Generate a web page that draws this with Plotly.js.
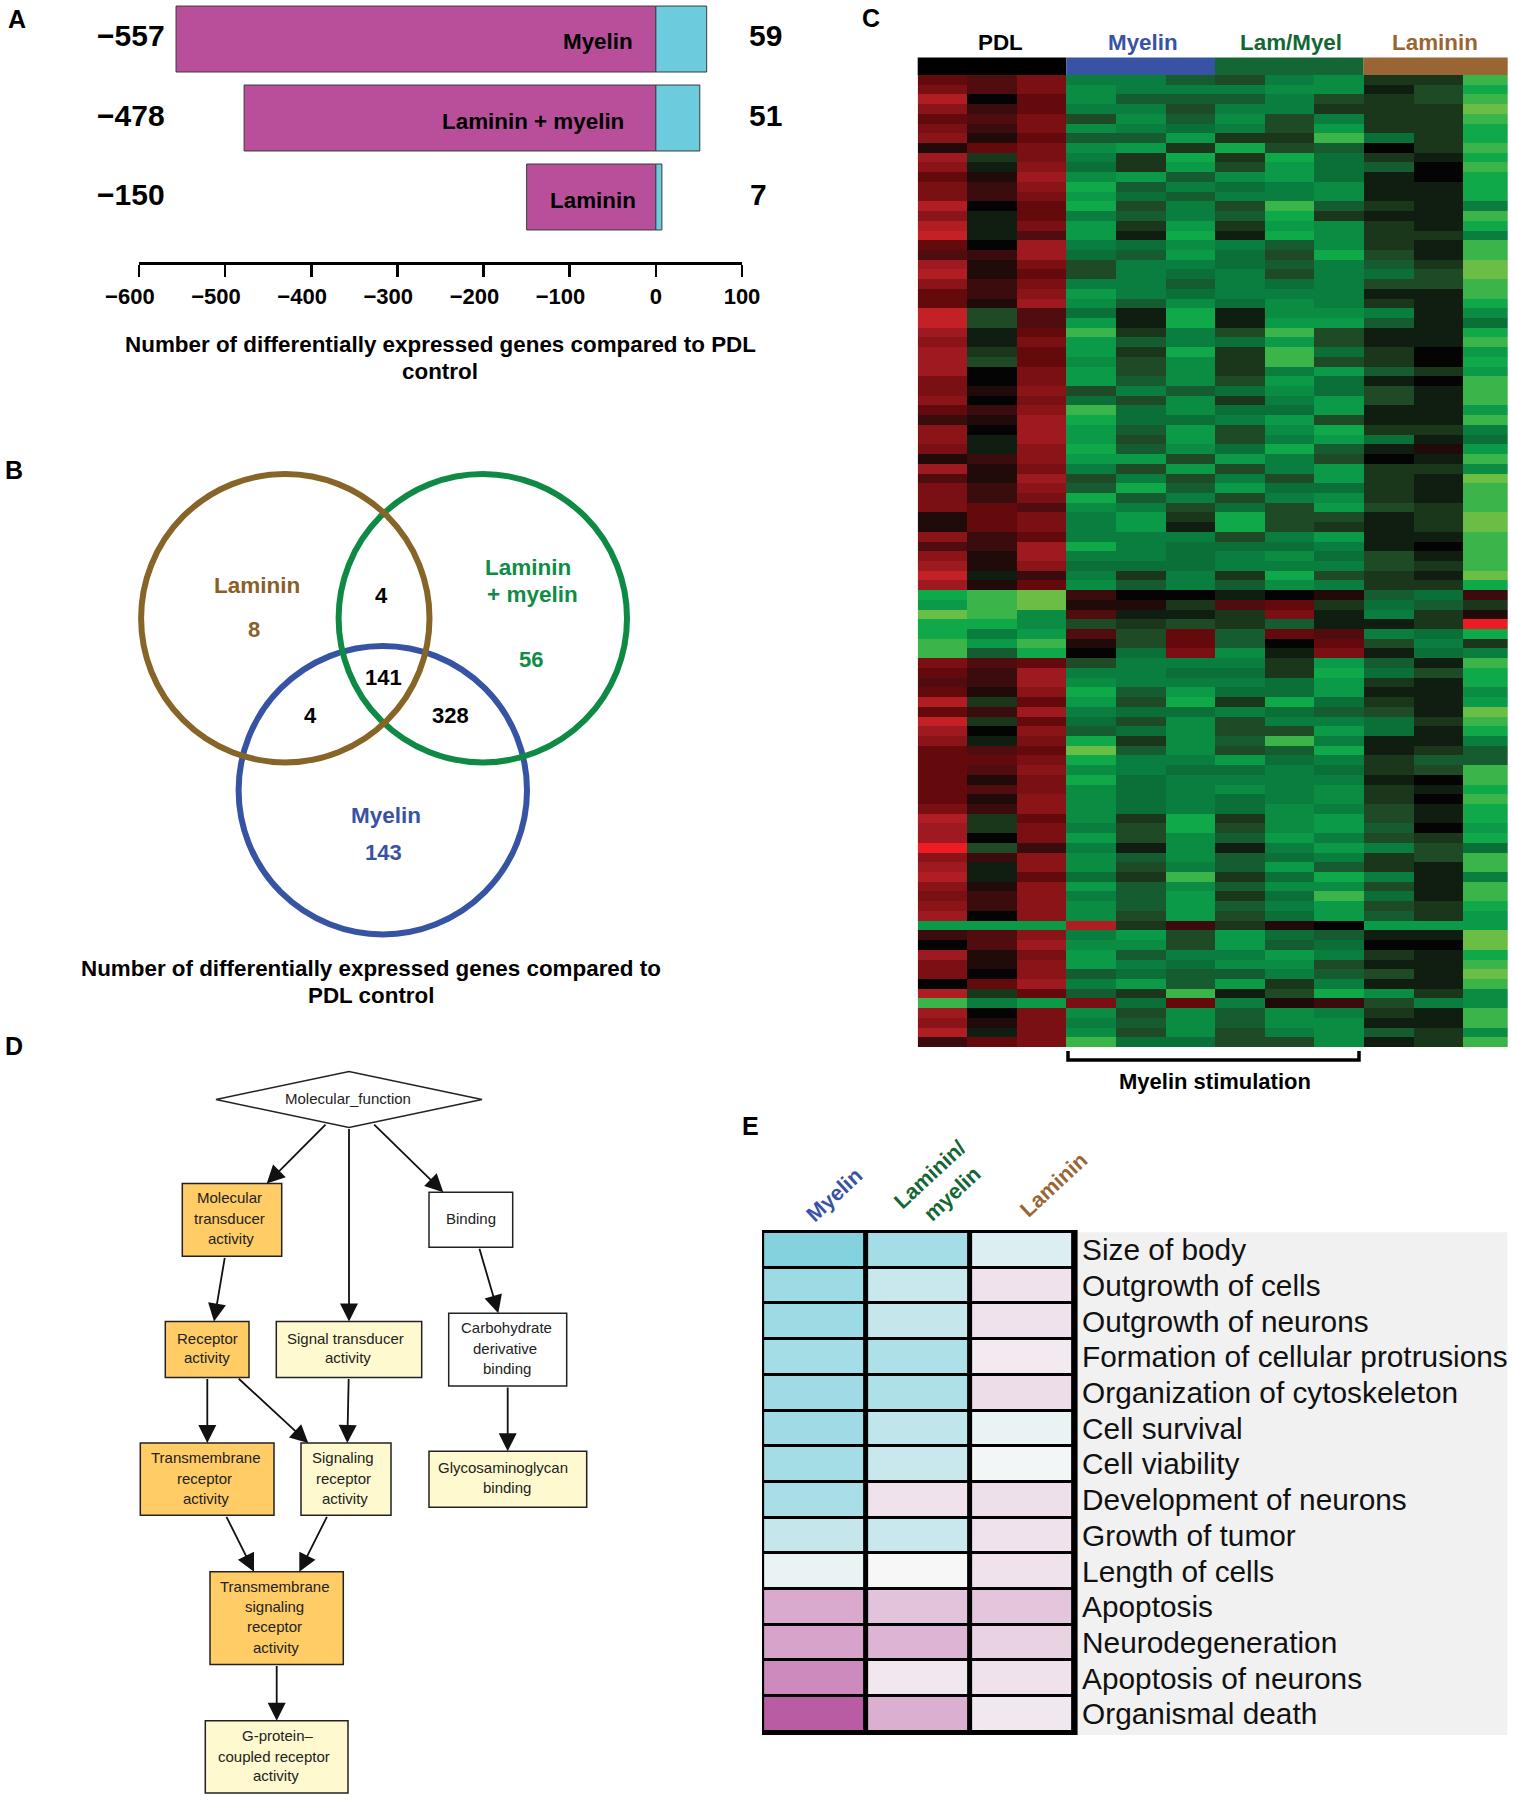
<!DOCTYPE html>
<html>
<head>
<meta charset="utf-8">
<script src="https://cdn.plot.ly/plotly-3.0.1.min.js"></script>
<style>html,body{margin:0;padding:0;background:#fff;overflow:hidden}</style>
</head>
<body>
<div id="chart" style="width:1513px;height:1800px"></div>
<script>
// ---------- Panel A data
const barCategories = ['Myelin', 'Laminin + myelin', 'Laminin'];
const downGenes = [-557, -478, -150];
const upGenes = [59, 51, 7];
const barTicks = [-600, -500, -400, -300, -200, -100, 0, 100];
const barTickLabels = ['−600', '−500', '−400', '−300', '−200', '−100', '0', '100'];

// ---------- Panel B data
const vennCounts = {laminin: 8, lamMye: 56, myelin: 143, lamLm: 4, lamMy: 4, lmMy: 328, all: 141};

// ---------- Panel C data (signed colour level per gene, green negative, red positive)
const heatColumns = ['PDL 1','PDL 2','PDL 3','Myelin 1','Myelin 2','Myelin 3','Lam/Myel 1','Lam/Myel 2','Lam/Myel 3','Laminin 1','Laminin 2','Laminin 3'];
const heatGroups = ['PDL', 'Myelin', 'Lam/Myel', 'Laminin'];
const heatRows = [
[4,3,5,-6,-6,-4,-3,-6,-7,-2,-2,-10],
[5,3,5,-7,-6,-6,-6,-7,-7,-1,-3,-9],
[8,0,4,-7,-4,-4,-4,-6,-3,-2,-3,-10],
[6,2,4,-6,-6,-3,-6,-6,-2,-2,-2,-11],
[4,3,5,-3,-7,-4,-7,-3,-6,-2,-2,-10],
[5,2,5,-7,-6,-5,-6,-3,-8,-2,-2,-9],
[6,1,4,-4,-4,-8,-2,-2,-10,-5,-2,-9],
[1,4,5,-7,-8,-2,-9,-3,-4,0,-2,-10],
[7,-2,5,-6,-2,-9,-2,-9,-5,-2,-1,-9],
[6,-1,6,-5,-2,-8,-3,-8,-5,-4,0,-10],
[4,1,7,-7,-8,-4,-7,-8,-5,-1,0,-9],
[5,2,6,-9,-4,-6,-5,-6,-7,-1,-1,-9],
[5,2,5,-8,-5,-4,-6,-6,-7,-1,-1,-9],
[8,0,4,-9,-3,-6,-3,-10,-4,-2,-1,-6],
[6,-1,4,-6,-4,-6,-4,-9,-2,-1,-1,-10],
[8,-1,5,-8,-2,-8,-2,-8,-7,-2,-1,-9],
[9,-1,3,-8,-1,-9,-1,-9,-7,-2,-2,-6],
[4,0,7,-6,-5,-7,-6,-4,-7,-2,-1,-10],
[3,2,7,-5,-4,-8,-5,-3,-9,-3,-1,-10],
[7,1,5,-3,-6,-6,-5,-4,-6,-4,-2,-11],
[8,1,4,-3,-6,-5,-6,-3,-6,-5,-3,-11],
[6,2,5,-6,-6,-4,-6,-5,-6,-3,-3,-10],
[4,2,6,-8,-6,-5,-6,-6,-6,-1,-1,-10],
[4,1,7,-7,-4,-7,-5,-7,-6,-2,-1,-9],
[9,-3,3,-5,-1,-9,-1,-7,-7,-6,-1,-7],
[9,-3,3,-8,-1,-9,-1,-8,-8,-4,-1,-5],
[7,-1,4,-10,-2,-6,-3,-10,-3,-1,-1,-9],
[6,-1,5,-8,-4,-6,-5,-8,-3,-1,-1,-10],
[7,-2,4,-8,-2,-9,-2,-10,-5,-2,0,-8],
[7,-3,4,-7,-3,-7,-2,-10,-3,-2,0,-9],
[7,0,5,-8,-3,-7,-2,-6,-8,-4,-2,-8],
[5,0,5,-8,-4,-7,-3,-8,-5,-1,0,-10],
[5,1,6,-3,-6,-4,-5,-7,-5,-3,-1,-10],
[6,0,5,-5,-3,-7,-2,-6,-8,-3,-1,-10],
[4,2,6,-10,-5,-7,-5,-5,-8,-1,-1,-8],
[2,1,7,-9,-5,-5,-6,-8,-3,-1,-1,-10],
[6,0,7,-8,-4,-8,-3,-7,-9,-2,-2,-6],
[6,-1,7,-8,-3,-8,-3,-6,-8,-5,-1,-5],
[5,-1,6,-9,-4,-7,-5,-9,-4,-1,1,-8],
[1,2,6,-8,-8,-3,-8,-6,-3,0,-1,-10],
[7,1,5,-6,-3,-8,-3,-6,-8,-2,-2,-7],
[3,1,7,-3,-6,-3,-6,-3,-8,-2,-1,-11],
[5,2,6,-4,-9,-4,-8,-5,-5,-2,-1,-10],
[5,2,5,-9,-4,-6,-3,-6,-7,-2,-1,-10],
[5,4,3,-7,-6,-3,-5,-3,-8,-3,-2,-10],
[1,4,5,-6,-8,-2,-9,-3,-3,-1,-2,-11],
[1,4,5,-6,-8,-1,-9,-3,-2,-1,-2,-11],
[6,2,4,-6,-6,-6,-3,-6,-8,-1,-1,-10],
[3,2,7,-9,-6,-5,-5,-5,-6,-1,0,-10],
[6,1,7,-6,-6,-5,-6,-7,-5,-3,-1,-10],
[7,1,6,-5,-5,-5,-6,-6,-6,-3,-2,-10],
[9,-1,2,-6,-2,-6,-2,-9,-3,-2,-1,-11],
[7,1,4,-7,-4,-6,-4,-7,-6,-2,-2,-9],
[-9,-10,-11,2,0,0,-1,0,1,-4,-5,2],
[-8,-10,-11,1,1,-2,3,4,-2,-5,-4,-2],
[-11,-10,-7,3,-1,-1,-2,5,-1,-6,-2,1],
[-9,-9,-7,-3,-2,-3,-2,-4,-1,-1,-2,11],
[-9,-6,-8,3,-3,4,-4,4,3,-6,-5,-9],
[-10,-8,-10,1,-3,4,-4,0,4,-3,-6,-2],
[-10,-4,-9,0,-5,5,-7,-1,5,-1,-5,-6],
[5,3,4,-3,-6,-6,-6,-2,-8,-4,-1,-10],
[4,2,7,-6,-6,-5,-5,-2,-9,-5,-3,-9],
[3,2,7,-7,-6,-6,-6,-5,-8,-2,-1,-9],
[4,1,6,-9,-4,-8,-5,-5,-8,-1,-1,-7],
[8,-2,4,-8,-3,-9,-2,-9,-5,-2,-1,-8],
[4,2,7,-6,-5,-5,-6,-5,-4,-3,-1,-11],
[9,-2,4,-5,-3,-7,-3,-6,-6,-5,-2,-10],
[7,0,6,-4,-5,-7,-3,-3,-8,-5,-1,-9],
[6,-1,5,-9,-2,-7,-4,-10,-6,-1,-1,-6],
[4,3,4,-11,-4,-7,-3,-4,-9,-1,-2,-4],
[4,4,5,-9,-6,-6,-8,-5,-6,-2,-4,-4],
[4,3,6,-7,-6,-5,-5,-6,-5,-2,-3,-10],
[4,1,5,-9,-5,-6,-6,-6,-6,-1,0,-10],
[4,3,5,-7,-5,-6,-7,-6,-7,-2,-1,-9],
[4,1,6,-7,-5,-6,-5,-6,-7,-2,0,-10],
[5,2,6,-7,-5,-6,-5,-7,-6,-3,-1,-9],
[8,-2,4,-7,-2,-9,-2,-7,-8,-3,-1,-9],
[7,-2,5,-6,-3,-9,-3,-7,-8,-4,0,-8],
[7,0,5,-8,-3,-7,-4,-8,-6,-3,-2,-9],
[11,-3,2,-6,-1,-7,-1,-6,-8,-6,-3,-5],
[6,2,6,-7,-4,-7,-4,-5,-6,-2,-3,-10],
[7,-1,6,-7,-3,-6,-4,-8,-4,-2,-1,-10],
[8,-1,4,-5,-2,-10,-2,-5,-9,-6,-1,-6],
[6,1,6,-8,-4,-7,-4,-7,-7,-3,-1,-10],
[5,2,6,-6,-4,-8,-2,-5,-10,-5,-1,-10],
[6,2,6,-7,-4,-8,-4,-6,-8,-3,-2,-9],
[7,0,6,-7,-3,-8,-3,-5,-8,-4,-2,-8],
[-8,-8,-8,8,-2,2,-2,1,0,-8,-8,-8],
[2,3,6,-6,-8,-3,-8,-5,-4,-1,-1,-11],
[0,3,7,-7,-7,-3,-8,-4,-5,0,0,-11],
[7,1,5,-8,-4,-6,-6,-8,-6,-2,-1,-9],
[5,1,6,-8,-6,-5,-7,-7,-3,-1,-1,-10],
[5,0,6,-4,-5,-4,-4,-6,-4,-3,-1,-11],
[0,4,7,-6,-8,-4,-8,-2,-6,-1,-1,-10],
[8,-2,4,-4,-2,-10,-1,-3,-9,-7,-2,-7],
[-10,-6,-8,5,-5,4,-6,1,2,-3,-6,-7],
[7,0,5,-7,-3,-7,-4,-7,-6,-2,-1,-10],
[6,1,5,-6,-4,-7,-4,-7,-7,-1,-1,-10],
[8,-1,5,-7,-3,-7,-3,-6,-7,-4,-2,-7],
[2,4,5,-10,-5,-5,-3,-3,-7,-1,-2,-10]
];

// ---------- Panel D data
const goNodes = [
  ['Molecular_function'],
  ['Molecular','transducer','activity'],
  ['Binding'],
  ['Receptor','activity'],
  ['Signal transducer','activity'],
  ['Carbohydrate','derivative','binding'],
  ['Transmembrane','receptor','activity'],
  ['Signaling','receptor','activity'],
  ['Glycosaminoglycan','binding'],
  ['Transmembrane','signaling','receptor','activity'],
  ['G-protein–','coupled receptor','activity']
];

// ---------- Panel E data
const functionLabels = ['Size of body','Outgrowth of cells','Outgrowth of neurons','Formation of cellular protrusions','Organization of cytoskeleton','Cell survival','Cell viability','Development of neurons','Growth of tumor','Length of cells','Apoptosis','Neurodegeneration','Apoptosis of neurons','Organismal death'];
const functionColumns = ['Myelin', 'Laminin/myelin', 'Laminin'];
const myelinScores = [2.5,2.0,2.0,1.8,1.9,1.9,1.8,1.7,1.1,0.3,-1.5,-1.6,-2.1,-3.0];
const lamMyelinScores = [1.8,1.0,1.1,1.6,1.6,1.2,1.0,-0.4,1.0,0.0,-1.0,-1.3,-0.3,-1.4];
const lamininScores = [0.6,-0.4,-0.4,-0.25,-0.5,0.3,0.1,-0.45,-0.4,-0.4,-0.95,-0.7,-0.4,-0.3];

// ---------- Styling / layout (pixel positions on the page)
const W = 1513, H = 1800;
const FONT = '"Liberation Sans", Arial, sans-serif';
const C_BLUE = '#3953A4', C_GREEN = '#146734', C_BROWN = '#996633';
const dx = (a, b) => [a / W, b / W];
const dy = (t, b) => [1 - b / H, 1 - t / H];

const anns = [];
const shapes = [];
function label(x, y, text, size, color, bold, extra) {
  anns.push(Object.assign({xref:'x4', yref:'y4', x, y, text, showarrow:false, xanchor:'center', yanchor:'middle',
    font:{family:FONT, size, color:color||'#000', weight:bold?'bold':'normal'}}, extra||{}));
}

// Panel letters
[['A',17,19],['B',14,470],['C',871,18],['D',14,1046],['E',750,1126]].forEach(p => label(p[1], p[2], p[0], 25, '#000', true));

// Panel A value labels and in-bar names
const barLabelX = [598, 533, 593];
const rowYs = [35, 115, 194];
barCategories.forEach((c, i) => {
  label(barLabelX[i], rowYs[i] + 6, c, 22.4, '#000', true);
  label(131, rowYs[i], '−' + Math.abs(downGenes[i]), 30, '#000', true);
  label(i === 2 ? 758 : 765, rowYs[i], String(upGenes[i]), 30, '#000', true);
});
label(440, 371, 'control', 22.4, '#000', true);

// Panel B
const venn = [
  {cx:382.8, cy:790.2, color:'#3653A4'},
  {cx:482.8, cy:618.2, color:'#0F8A45'},
  {cx:285.3, cy:618.2, color:'#876427'}
];
venn.forEach(v => shapes.push({type:'circle', xref:'x4', yref:'y4', x0:v.cx-144.2, x1:v.cx+144.2, y0:v.cy-144.2, y1:v.cy+144.2,
  line:{color:v.color, width:6}, fillcolor:'rgba(0,0,0,0)', layer:'above'}));
label(257, 585.5, 'Laminin', 22.5, '#8B6028', true);
label(254, 629, String(vennCounts.laminin), 22, '#8B6028', true);
label(528, 567, 'Laminin', 22.5, '#0F8C45', true);
label(532, 594, '+ myelin', 22.5, '#0F8C45', true);
label(531, 659.5, String(vennCounts.lamMye), 22, '#0F8C45', true);
label(381.5, 595.5, String(vennCounts.lamLm), 22, '#000', true);
label(383.5, 677.5, String(vennCounts.all), 22, '#000', true);
label(310, 715.5, String(vennCounts.lamMy), 22, '#000', true);
label(450, 715.5, String(vennCounts.lmMy), 22, '#000', true);
label(385.5, 815.5, 'Myelin', 22.5, C_BLUE, true);
label(383.5, 852, String(vennCounts.myelin), 22, C_BLUE, true);
label(371, 968, 'Number of differentially expressed genes compared to', 22.4, '#000', true);
label(371, 995.5, 'PDL control', 22.4, '#000', true);

// Panel C header
const groupBands = [[917.7,1066.35,'#000000'],[1066.35,1215,C_BLUE],[1215,1363.65,C_GREEN],[1363.65,1507.7,C_BROWN]];
const groupLabelX = [1000, 1143, 1290.5, 1435];
heatGroups.forEach((g, i) => {
  const b = groupBands[i];
  shapes.push({type:'rect', xref:'x4', yref:'y4', x0:b[0], x1:b[1], y0:57.5, y1:75, fillcolor:b[2], line:{width:0}, layer:'above'});
  label(groupLabelX[i], 42, g, 22.4, i === 0 ? '#000' : b[2], true);
});
shapes.push({type:'path', xref:'x4', yref:'y4', path:'M 1068 1051 V 1060 H 1359 V 1051', line:{color:'#000', width:3.5}, layer:'above'});
label(1215, 1081, 'Myelin stimulation', 22, '#000', true);

// Panel D
const PALE = '#FFF9CF', ORANGE = '#FFCC66', BLANK = '#FFFFFF';
const boxes = [
  {n:0, shape:'diamond', x0:216, x1:482, y0:1071.5, y1:1127.5, fill:BLANK, tx:[348], ty:[1098]},
  {n:1, x0:182.3, x1:281.7, y0:1183.6, y1:1256.3, fill:ORANGE, tx:[229.3,229.3,230.7], ty:[1197.9,1218.5,1238.6]},
  {n:2, x0:429, x1:512.7, y0:1192.2, y1:1247.2, fill:BLANK, tx:[471], ty:[1218.5]},
  {n:3, x0:165.3, x1:249, y0:1321.4, y1:1377.4, fill:ORANGE, tx:[207,206.7], ty:[1338.2,1357.8]},
  {n:4, x0:276.3, x1:421.7, y0:1321.4, y1:1377.4, fill:PALE, tx:[345,348.3], ty:[1338.2,1357.8]},
  {n:5, x0:448.7, x1:566.7, y0:1313.3, y1:1386, fill:BLANK, tx:[506,504.7,507.3], ty:[1327.6,1348.2,1368.3]},
  {n:6, x0:140.3, x1:274, y0:1443, y1:1515.3, fill:ORANGE, tx:[205.3,204.7,206.3], ty:[1457.4,1478.5,1498]},
  {n:7, x0:301, x1:391, y0:1443, y1:1515.3, fill:PALE, tx:[342.7,343.3,345], ty:[1457.4,1478.5,1498]},
  {n:8, x0:429, x1:586.7, y0:1451.2, y1:1507.2, fill:PALE, tx:[503.3,507.3], ty:[1467.9,1487]},
  {n:9, x0:210, x1:343.3, y0:1571.8, y1:1664.6, fill:ORANGE, tx:[274.7,274,274,275.7], ty:[1586.6,1606.7,1626.3,1647.4]},
  {n:10, x0:205.3, x1:348, y0:1720.7, y1:1793, fill:PALE, tx:[278,273.7,275.7], ty:[1735,1756,1775.7]}
];
boxes.forEach(b => {
  const xc = (b.x0 + b.x1) / 2, yc = (b.y0 + b.y1) / 2;
  if (b.shape === 'diamond') {
    shapes.push({type:'path', xref:'x4', yref:'y4', path:`M ${b.x0} ${yc} L ${xc} ${b.y0} L ${b.x1} ${yc} L ${xc} ${b.y1} Z`,
      fillcolor:b.fill, line:{color:'#222', width:1.5}, layer:'above'});
  } else {
    shapes.push({type:'rect', xref:'x4', yref:'y4', x0:b.x0, x1:b.x1, y0:b.y0, y1:b.y1,
      fillcolor:b.fill, line:{color:'#222', width:1.5}, layer:'above'});
  }
  goNodes[b.n].forEach((t, i) => label(b.tx[i], b.ty[i], t, 15, '#222', false));
});
const edges = [
  [327,1123.2,266.7,1183.6],[349,1127.5,349,1321.4],[372.7,1123.2,443.3,1192.2],
  [225,1256.3,214,1321.4],[207.3,1377.4,207.3,1443],[237.3,1377.4,308.3,1443],
  [348.7,1377.4,347.3,1443],[479,1247.2,498.3,1313.3],[507.7,1386,507.7,1451.2],
  [225.7,1515.3,254,1571.8],[327.7,1515.3,299.3,1571.8],[276.7,1664.6,276.7,1720.7]
];
edges.forEach(e => anns.push({xref:'x4', yref:'y4', axref:'x4', ayref:'y4', x:e[2], y:e[3], ax:e[0], ay:e[1], text:'',
  showarrow:true, arrowhead:2, arrowsize:2, arrowwidth:1.8, arrowcolor:'#111', standoff:0, startstandoff:0}));

// Panel E backgrounds and headers (drawn under the heatmap)
const lowerShapes = [
  {type:'rect', xref:'paper', yref:'paper', x0:1077.6/W, x1:1507.5/W, y0:1-1735/H, y1:1-1232.3/H, fillcolor:'#F1F1F1', line:{width:0}, layer:'below'},
  {type:'rect', xref:'paper', yref:'paper', x0:762/W, x1:1077.6/W, y0:1-1735/H, y1:1-1230/H, fillcolor:'#000', line:{width:0}, layer:'below'}
];
const rot = {textangle:-43};
label(834.6, 1195, functionColumns[0], 21.5, C_BLUE, true, rot);
label(929.7, 1175, 'Laminin/', 21.5, C_GREEN, true, rot);
label(952, 1193.6, 'myelin', 21.5, C_GREEN, true, rot);
label(1054, 1185.4, functionColumns[2], 21.5, C_BROWN, true, rot);

const traces = [
  {type:'bar', orientation:'h', name:'Down', x:downGenes, y:barCategories, xaxis:'x', yaxis:'y',
    marker:{color:'#B94F9B', line:{color:'#3a3a3a', width:1}}, hoverinfo:'x+y'},
  {type:'bar', orientation:'h', name:'Up', x:upGenes, y:barCategories, xaxis:'x', yaxis:'y',
    marker:{color:'#6CCBDC', line:{color:'#3a3a3a', width:1}}, hoverinfo:'x+y'},
  {type:'heatmap', z:heatRows, x:heatColumns, xaxis:'x2', yaxis:'y2', zmin:-11, zmax:11, showscale:false, zsmooth:false,
    colorscale:[
      [0/22,'#6ABD45'],[1/22,'#3BB54A'],[2/22,'#0FA94A'],[3/22,'#0B9A47'],[4/22,'#0A8C43'],[5/22,'#0A7E3F'],
      [6/22,'#0B6F38'],[7/22,'#155C30'],[8/22,'#1E4A25'],[9/22,'#1A361B'],[10/22,'#101E12'],[11/22,'#040404'],
      [12/22,'#200A0A'],[13/22,'#3A0C0E'],[14/22,'#500C0E'],[15/22,'#650A0C'],[16/22,'#7A1014'],[17/22,'#8A1418'],
      [18/22,'#9E1A20'],[19/22,'#B01E24'],[20/22,'#C42127'],[21/22,'#DA1F26'],[22/22,'#ED1C24']]},
  {type:'heatmap', z:functionLabels.map((_, i) => [myelinScores[i], lamMyelinScores[i], lamininScores[i]]),
    x:functionColumns, y:functionLabels, xaxis:'x3', yaxis:'y3', zmin:-3, zmax:3, showscale:false, zsmooth:false, xgap:5, ygap:3,
    colorscale:[[0,'#BA5CA3'],[0.5,'#F7F7F7'],[1,'#6ECBDA']]},
  {type:'scatter', x:[], y:[], xaxis:'x4', yaxis:'y4', showlegend:false, hoverinfo:'skip'}
];

const layout = {
  width:W, height:H, margin:{l:0, r:0, t:0, b:0}, autosize:false, showlegend:false, barmode:'relative', bargap:0.165,
  paper_bgcolor:'#fff', plot_bgcolor:'rgba(0,0,0,0)', font:{family:FONT, color:'#000'},
  xaxis:{domain:dx(139,742), range:[-600,100], anchor:'y', tickmode:'array', tickvals:barTicks,
    ticktext:barTickLabels.map(t => t[0] === '−' ? t + '\u00a0\u00a0\u00a0' : t),
    ticks:'outside', ticklen:12, tickwidth:2.5, tickcolor:'#000', showline:true, linecolor:'#000', linewidth:3, showgrid:false, zeroline:false,
    tickfont:{family:FONT, size:22, color:'#000', weight:'bold'}, ticklabelstandoff:1,
    title:{text:'Number of differentially expressed genes compared to PDL', standoff:28, font:{family:FONT, size:22.4, color:'#000', weight:'bold'}}},
  yaxis:{domain:dy(0,262), type:'category', categoryorder:'array', categoryarray:barCategories, range:[2.823,-0.494], anchor:'x', visible:false},
  xaxis2:{domain:dx(917.7,1507.7), range:[-0.5,11.407], type:'category', anchor:'y2', visible:false},
  yaxis2:{domain:dy(75,1047), anchor:'x2', autorange:'reversed', visible:false},
  xaxis3:{domain:dx(762.1,1074.1), anchor:'y3', visible:false, type:'category'},
  yaxis3:{domain:dy(1232,1731.8), anchor:'x3', side:'right', autorange:'reversed', type:'category', showgrid:false, zeroline:false, showline:false, ticks:'',
    tickmode:'array', tickvals:functionLabels, ticktext:functionLabels, ticklabelstandoff:7,
    tickfont:{family:FONT, size:29.8, color:'#111'}},
  xaxis4:{domain:[0,1], range:[0,W], anchor:'y4', visible:false, fixedrange:true},
  yaxis4:{domain:[0,1], range:[H,0], anchor:'x4', visible:false, fixedrange:true},
  shapes:lowerShapes.concat(shapes),
  annotations:anns
};
Plotly.newPlot('chart', traces, layout, {displayModeBar:false, staticPlot:true});
</script>
</body>
</html>
